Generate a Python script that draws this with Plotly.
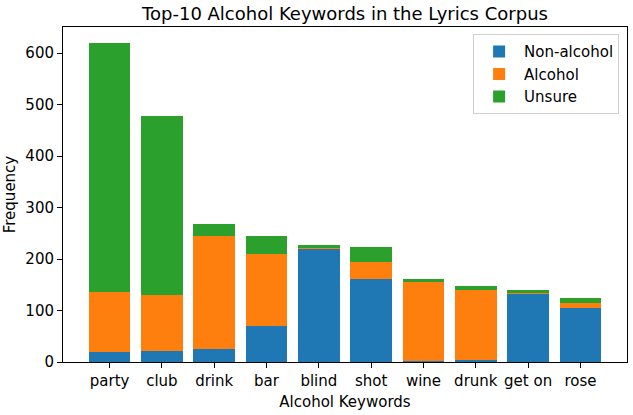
import plotly.graph_objects as go

# top-10 alcohol keywords, counts per label
keywords = ['party', 'club', 'drink', 'bar', 'blind', 'shot', 'wine', 'drunk', 'get on', 'rose']
non_alcohol = [20, 21, 26, 69, 220, 162, 1, 4, 134, 104]
alcohol = [116, 109, 218, 140, 2, 33, 155, 135, 1, 10]
unsure = [484, 349, 24, 36, 6, 29, 6, 8, 5, 11]

FONT = 'DejaVu Sans'

fig = go.Figure()
fig.add_trace(go.Bar(x=keywords, y=non_alcohol, name='Non-alcohol', marker_color='#1f77b4'))
fig.add_trace(go.Bar(x=keywords, y=alcohol, name='Alcohol', marker_color='#ff7f0e'))
fig.add_trace(go.Bar(x=keywords, y=unsure, name='Unsure', marker_color='#2ca02c'))
fig.update_traces(marker_line_width=0)

fig.update_layout(
    barmode='stack',
    bargap=0.2,
    width=633, height=415,
    margin=dict(l=63, r=6, t=27, b=53),
    paper_bgcolor='white', plot_bgcolor='white',
    font=dict(family=FONT, size=15, color='black'),
    title=dict(text='Top-10 Alcohol Keywords in the Lyrics Corpus', xref='paper', x=0.5, xanchor='center',
               y=0.967, yanchor='middle', font=dict(size=18)),
    legend=dict(x=0.986, y=0.978, xanchor='right', yanchor='top',
                bordercolor='#d0d0d0', borderwidth=1, bgcolor='white',
                font=dict(size=15), itemwidth=40, traceorder='normal'),
    showlegend=True,
)
fig.update_xaxes(
    range=[-0.89, 9.89], showline=True, linecolor='black', linewidth=1, mirror=True,
    ticks='outside', ticklen=5, tickcolor='black', showgrid=False,
    title=dict(text='Alcohol Keywords', standoff=7, font=dict(size=15)),
)
fig.update_yaxes(
    range=[0, 651], showline=True, linecolor='black', linewidth=1, mirror=True,
    ticks='outside', ticklen=5, tickcolor='black', showgrid=False, zeroline=False,
    tickvals=[0, 100, 200, 300, 400, 500, 600],
    title=dict(text='Frequency', standoff=6, font=dict(size=15)),
)

# drop the browser's default body margin so the figure sits at the page corner
fig.write_html('out.html', config={'displayModeBar': False},
               post_script="document.body.style.margin='0';")
